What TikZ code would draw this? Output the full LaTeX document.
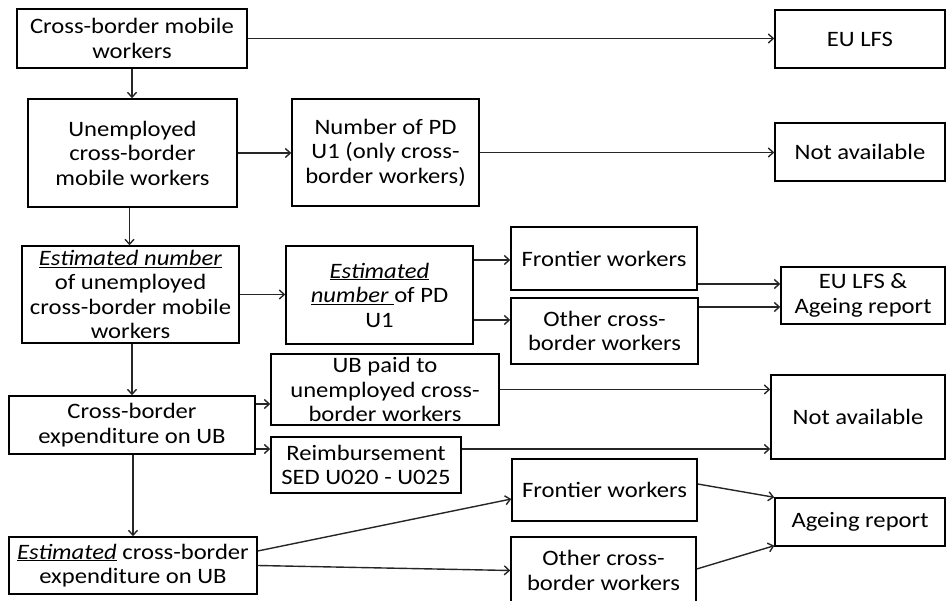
\documentclass[tikz,border=0pt]{standalone}
\usepackage{fontspec}
\setmainfont{Carlito}[FakeStretch=1.12]
\usetikzlibrary{arrows.meta}
\begin{document}
\begin{tikzpicture}[x=1pt,y=-1pt,
  box/.style={draw=black, line width=1.4pt, inner sep=0pt, align=center,
    font=\fontsize{22}{24.5}\selectfont},
  arr/.style={draw=black!85, line width=1.4pt, -{Straight Barb[length=5pt,width=9pt]}}]
\useasboundingbox (0,0) rectangle (946,601);
% boxes
\node[box, minimum width=230pt, minimum height=59pt] (A) at (132,38.5) {Cross-border mobile\\workers};
\node[box, minimum width=209pt, minimum height=108pt] (B) at (132.5,153) {Unemployed\\cross-border\\mobile workers};
\node[box, minimum width=187pt, minimum height=107pt] (C) at (385.5,152.5) {Number of PD\\U1 (only cross-\\border workers)};
\node[box, minimum width=170pt, minimum height=58pt] (EU) at (860,39) {EU LFS};
\node[box, minimum width=170pt, minimum height=58pt] (NA1) at (860,152) {Not available};
\node[box, minimum width=217pt, minimum height=97pt] (D) at (130.5,294.5) {\underline{\textit{Estimated number}}\\of unemployed\\cross-border mobile\\workers};
\node[box, minimum width=187pt, minimum height=98pt] (E) at (379.5,295) {\underline{\textit{Estimated}}\\\underline{\textit{number}\ }of PD\\U1};
\node[box, minimum width=186pt, minimum height=63pt] (FW1) at (604,258.5) {Frontier workers};
\node[box, minimum width=187pt, minimum height=66pt] (OC1) at (604.5,331) {Other cross-\\border workers};
\node[box, minimum width=164pt, minimum height=57pt] (EUA) at (863,295.5) {EU LFS \&\\Ageing report};
\node[box, minimum width=246pt, minimum height=58pt] (F) at (132,425) {Cross-border\\expenditure on UB};
\node[box, minimum width=228pt, minimum height=71pt] (G) at (385,389.5) {UB paid to\\unemployed cross-\\border workers};
\node[box, minimum width=190pt, minimum height=56pt] (H) at (366,465) {Reimbursement\\SED U020 - U025};
\node[box, minimum width=174pt, minimum height=84pt] (NA2) at (858,417) {Not available};
\node[box, minimum width=248pt, minimum height=57pt] (I) at (133,565.5) {\underline{\textit{Estimated}} cross-border\\expenditure on UB};
\node[box, minimum width=185pt, minimum height=62pt] (FW2) at (604.5,490) {Frontier workers};
\node[box, minimum width=185pt, minimum height=67pt] (OC2) at (603.5,570.5) {Other cross-\\border workers};
\node[box, minimum width=170pt, minimum height=48pt] (AR) at (860,522) {Ageing report};
% connectors
\draw[arr] (A.south) -- (A.south |- B.north);
\draw[arr] (A.east) -- (A.east -| EU.west);
\draw[arr] (B.east) -- (B.east -| C.west);
\draw[arr] (C.east) -- (C.east -| NA1.west);
\draw[arr] ([xshift=-3pt]B.south) -- ([xshift=-3pt]B.south |- D.north);
\draw[arr] (D.east) -- (D.east -| E.west);
\draw[arr] ([yshift=-1.5pt]FW1.west -| E.east) -- ([yshift=-1.5pt]FW1.west);
\draw[arr] ([yshift=-25pt]E.east) -- ([yshift=-25pt]E.east -| OC1.west);
\draw[arr] ([yshift=-25.5pt]FW1.east) -- ([yshift=-25.5pt]FW1.east -| EUA.west);
\draw[arr] ([yshift=24pt]OC1.east) -- ([yshift=24pt]OC1.east -| EUA.west);
\draw[arr] (F.north |- D.south) -- (F.north);
\draw[arr] ([yshift=21pt]F.east) -- ([yshift=21pt]F.east -| G.west);
\draw[arr] ([yshift=-24pt]F.east) -- ([yshift=-24pt]F.east -| H.west);
\draw[arr] (G.east) -- (G.east -| NA2.west);
\draw[arr] ([yshift=16pt]H.east) -- ([yshift=16pt]H.east -| NA2.west);
\draw[arr] (I.north |- F.south) -- (I.north);
\draw[arr] ([yshift=14.5pt]I.east) -- ([yshift=-9pt]FW2.west);
\draw[arr] (I.east) -- (OC2.west);
\draw[arr] ([yshift=6pt]FW2.east) -- (AR.north west);
\draw[arr] ([yshift=1.5pt]OC2.east) -- ([yshift=1pt]AR.south west);
\end{tikzpicture}
\end{document}
